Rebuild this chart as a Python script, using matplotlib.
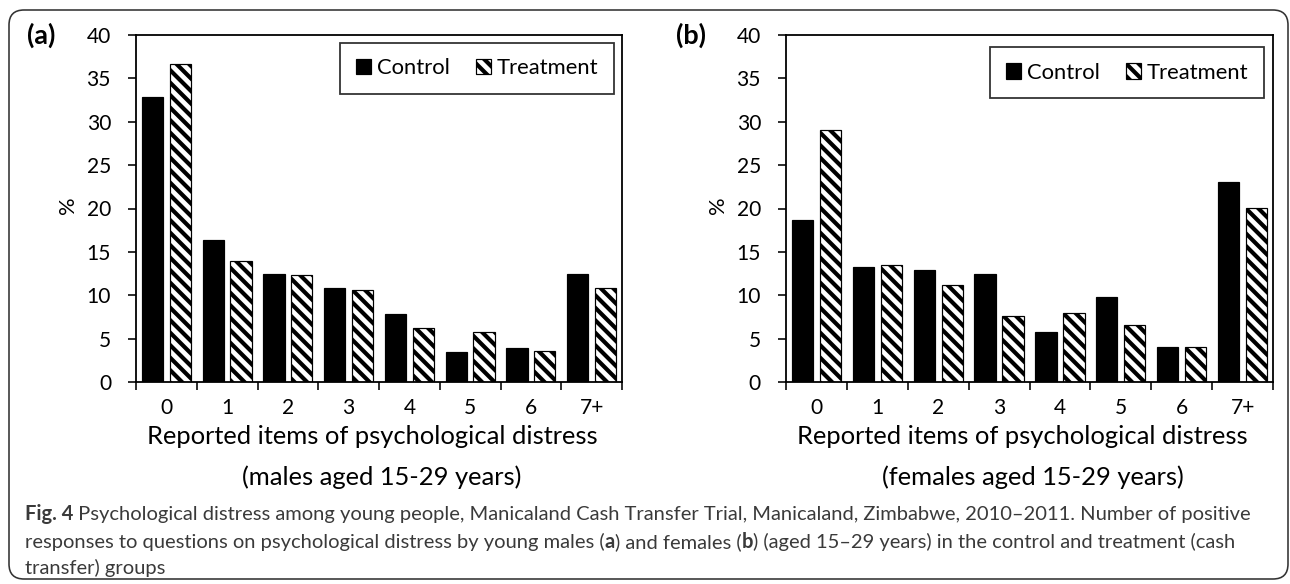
import numpy as np
import matplotlib
matplotlib.use('Agg')
import matplotlib.pyplot as plt
from matplotlib.patches import FancyBboxPatch

# data
categories = ['0', '1', '2', '3', '4', '5', '6', '7+']
males_control = [32.8, 16.4, 12.5, 10.8, 7.8, 3.5, 3.9, 12.5]
males_treatment = [36.6, 14.0, 12.3, 10.6, 6.2, 5.8, 3.6, 10.8]
females_control = [18.7, 13.3, 12.9, 12.4, 5.8, 9.8, 4.0, 23.1]
females_treatment = [29.0, 13.5, 11.2, 7.6, 7.9, 6.6, 4.0, 20.1]

DPI = 150
W, H = 1290, 584
def pt(px):
    # pixel size -> points at this dpi
    return px * 72.0 / DPI

plt.rcParams['font.family'] = ['Lato', 'DejaVu Sans']
plt.rcParams['hatch.linewidth'] = 2.0
plt.rcParams['hatch.color'] = 'black'

fig = plt.figure(figsize=(W / DPI, H / DPI), dpi=DPI)

# rounded frame around everything
frame = FancyBboxPatch((9 / DPI, (H - 579) / DPI), 1279 / DPI, 569 / DPI,
                       boxstyle='round,pad=0,rounding_size=0.1',
                       transform=fig.dpi_scale_trans, fill=False,
                       edgecolor='#333333', linewidth=pt(1.6))
fig.patches.append(frame)

x = np.arange(len(categories))
bw = 0.35

def panel(left_px, right_px, control, treatment, tag, line2, leg_anchor, lab_x):
    ax = fig.add_axes([left_px / W, 1 - 382 / H, (right_px - left_px) / W, (382 - 35) / H])
    ax.bar(x - 0.23, control, bw, color='black', edgecolor='black', linewidth=pt(1.2), label='Control')
    ax.bar(x + 0.23, treatment, bw, color='white', edgecolor='black', linewidth=pt(1.2),
           hatch='\\\\\\\\', label='Treatment')
    ax.set_xlim(-0.5, 7.5)
    ax.set_ylim(0, 40)
    ax.set_yticks(range(0, 41, 5))
    ax.set_xticks(x)
    ax.set_xticklabels(categories)
    ax.set_xticks(np.arange(-0.5, 8, 1), minor=True)
    ax.tick_params(axis='x', which='major', length=0, pad=pt(16), labelsize=pt(21))
    ax.tick_params(axis='x', which='minor', length=pt(8), width=pt(1.6), direction='out')
    ax.tick_params(axis='y', length=pt(8), width=pt(1.6), direction='out', pad=pt(17), labelsize=pt(21))
    for s in ax.spines.values():
        s.set_linewidth(pt(1.8))
        s.set_color('black')
    leg = ax.legend(loc='upper right', bbox_to_anchor=leg_anchor, ncol=2, frameon=True,
                    fancybox=False, edgecolor='black', fontsize=pt(22),
                    handlelength=0.7, handleheight=0.7, handletextpad=0.25,
                    columnspacing=1.2, borderaxespad=0, borderpad=0.7)
    leg.get_frame().set_linewidth(pt(1.8))
    cx = (left_px + right_px) / 2
    fig.text(lab_x / W, 1 - 35 / H, tag, fontsize=pt(27), fontweight='bold', ha='left', va='center')
    fig.text((left_px - 68) / W, 1 - 205 / H, '%', fontsize=pt(22), rotation=90, ha='center', va='center')
    fig.text((cx - 7) / W, 1 - 437 / H, 'Reported items of psychological distress',
             fontsize=pt(25.5), ha='center', va='center')
    fig.text((cx + 3) / W, 1 - 477 / H, line2, fontsize=pt(25.5), ha='center', va='center')
    return ax

ax_a = panel(136, 622, males_control, males_treatment, '(a)', '(males aged 15-29 years)',
             (0.9835, 0.977), 27)
ax_b = panel(786, 1273, females_control, females_treatment, '(b)', '(females aged 15-29 years)',
             (0.9815, 0.965), 676)

# caption, bold pieces placed one after another on a common baseline
cap_size = pt(20.2)
cap_col = '#3a3a3a'
lines = [
    [('Fig. 4', 'bold'), (' Psychological distress among young people, Manicaland Cash Transfer Trial, '
                          'Manicaland, Zimbabwe, 2010\u20132011. Number of positive', 'normal')],
    [('responses to questions on psychological distress by young males (', 'normal'), ('a', 'bold'),
     (') and females (', 'normal'), ('b', 'bold'),
     (') (aged 15\u201329 years) in the control and treatment (cash', 'normal')],
    [('transfer) groups', 'normal')],
]
baseline_y = [520, 548, 574]
renderer = fig.canvas.get_renderer()
for segs, yy in zip(lines, baseline_y):
    xpos = 25
    for txt, wt in segs:
        t = fig.text(xpos / W, 1 - yy / H, txt, fontsize=cap_size, fontweight=wt,
                     color=cap_col, ha='left', va='baseline')
        xpos += t.get_window_extent(renderer).width

fig.savefig('out.png', dpi=DPI)
